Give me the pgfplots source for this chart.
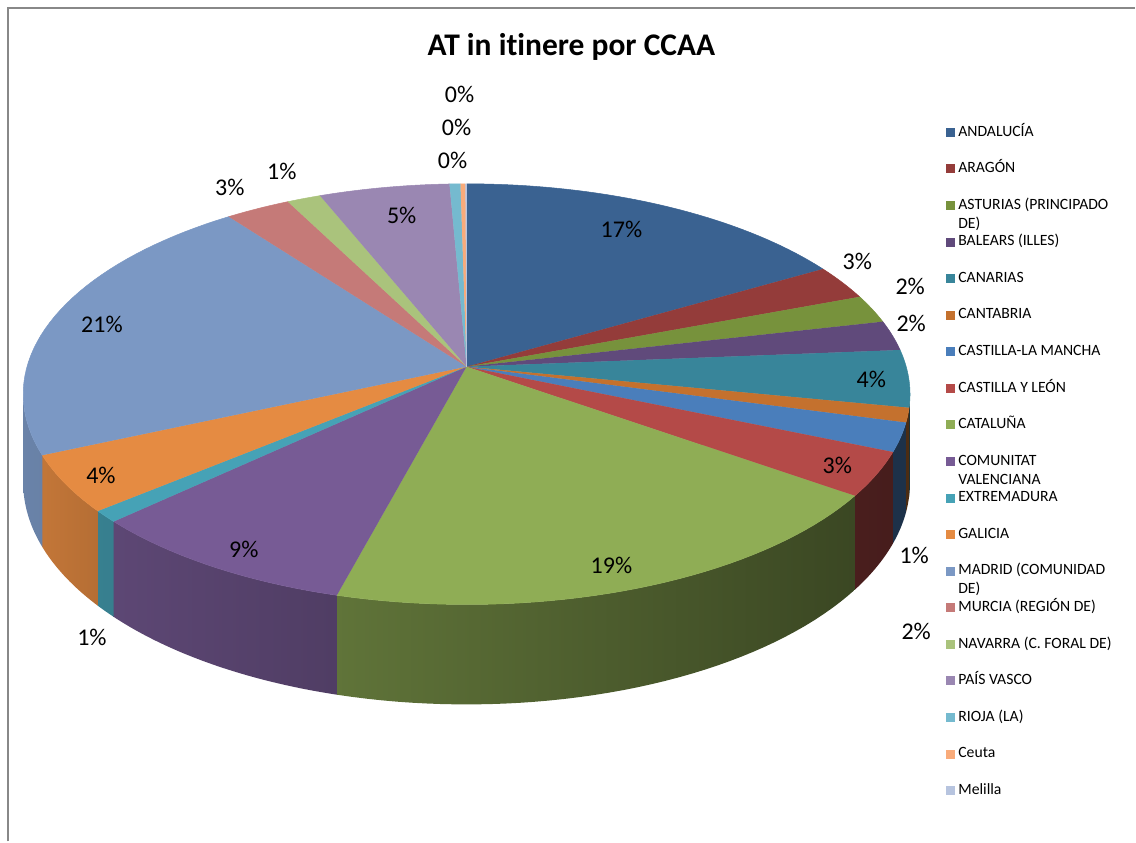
\documentclass[border=0pt]{standalone}
\usepackage{pgfplots}
\usepackage{pgfplotstable}
\pgfplotsset{compat=1.18}
\usepackage{fontspec}
\setmainfont{Carlito}[Ligatures=NoCommon]

\definecolor{c0}{HTML}{3A6291}
\definecolor{c1}{HTML}{943C3A}
\definecolor{c2}{HTML}{77923C}
\definecolor{c3}{HTML}{604A7B}
\definecolor{c4}{HTML}{38859A}
\definecolor{c5}{HTML}{C4712E}
\definecolor{c6}{HTML}{4A7EBB}
\definecolor{c7}{HTML}{B44A48}
\definecolor{c8}{HTML}{8FAD55}
\definecolor{c9}{HTML}{775B95}
\definecolor{c10}{HTML}{46A2B6}
\definecolor{c11}{HTML}{E58B42}
\definecolor{c12}{HTML}{7B98C4}
\definecolor{c13}{HTML}{C57A78}
\definecolor{c14}{HTML}{AAC37C}
\definecolor{c15}{HTML}{9A87B2}
\definecolor{c16}{HTML}{75BACF}
\definecolor{c17}{HTML}{F9AB7A}
\definecolor{c18}{HTML}{B7C4DF}
\definecolor{framegray}{HTML}{888888}

% share of each region (percent), in legend order
\pgfplotstableread{
pct
16.6
2.65
2.15
2.3
4.4
1.1
2.2
3.4
19.35
8.9
0.9
4.4
21.45
2.7
1.4
5.4
0.45
0.2
0.05
}\pcttable

% data label positions and rounded values
\pgfplotstableread{
x y v
622 612 17
858 580 3
911 555 2
912 518 2
872 462 4
915 286 1
917 210 2
838 376 3
612 276 19
244 292 9
92 204 1
101 366 4
102 517 21
230 654 3
282 670 1
402 626 5
453 681 0
457 714 0
460 747 0
}\labeltable

% cumulative angles (degrees, clockwise from 12 o'clock)
\def\cum{0}%
\pgfplotsforeachungrouped \i in {0,...,18}{%
  \pgfplotstablegetelem{\i}{pct}\of\pcttable
  \pgfmathsetmacro\nxt{\cum+3.6*\pgfplotsretval}%
  \expandafter\edef\csname angA\i\endcsname{\cum}%
  \expandafter\edef\csname angB\i\endcsname{\nxt}%
  \edef\cum{\nxt}%
}

\tikzset{
  declare function={
    px(\t)=467+3366*sin(\t)/(7.65+cos(\t));
    py(\t)=475+1583*cos(\t)/(7.65+cos(\t));
    hd(\t)=665/(7.65+cos(\t));
  }
}

\newcommand\topslice[2]{%
  \edef\ta{\csname angA#1\endcsname}%
  \edef\tb{\csname angB#1\endcsname}%
  \edef\tmp{\noexpand\addplot[fill=#2, draw=#2, line width=0.5pt, line join=round, domain=0:41, samples=42]
    ({x>40.5 ? 467 : px(\ta+(\tb-\ta)*x/40)}, {x>40.5 ? 475 : py(\ta+(\tb-\ta)*x/40)});}%
  \tmp
}

\newcommand\sideslice[2]{%
  \pgfmathsetmacro\ta{max(\csname angA#1\endcsname,97.5)}%
  \pgfmathsetmacro\tb{min(\csname angB#1\endcsname,262.5)}%
  \pgfmathtruncatemacro\pl{100*(0.4+0.47*min(1,max(0,(\tb-120)/130)))}%
  \pgfmathtruncatemacro\pr{100*(0.4+0.47*min(1,max(0,(\ta-120)/130)))}%
  \edef\sth{(x<40.5 ? \ta+(\tb-\ta)*x/40 : \tb-(\tb-\ta)*(x-41)/40)}%
  \edef\tmp{\noexpand\addplot[forget plot, draw=none, left color=#2!\pl!black, right color=#2!\pr!black, domain=0:81, samples=82]
    ({px(\sth)}, {py(\sth) - (x>40.5 ? hd(\sth) : 0)});}%
  \tmp
}

\newcommand\LE[1]{\smash{\begin{tabular}[t]{@{}l@{}}#1\end{tabular}}}

\begin{document}
\begin{tikzpicture}
\begin{axis}[
  width=1136pt, height=842pt, scale only axis,
  xmin=0, xmax=1136, ymin=0, ymax=842,
  hide axis, clip=false,
  title={AT in itinere por CCAA},
  title style={at={(axis description cs:0.5035,0.9264)}, anchor=base, inner sep=0pt,
    font=\bfseries\fontsize{31.5}{37}\selectfont},
  legend image code/.code={\path[#1, draw=none] (0pt,-4.5pt) rectangle (9pt,4.5pt);},
  legend cell align=left,
  legend style={at={(axis description cs:0.8336,0.8515)}, anchor=north west,
    draw=none, fill=none, inner sep=0pt, row sep=22.1pt, column sep=3pt,
    font=\fontsize{15.7}{19}\selectfont,
    nodes={inner sep=0pt, text height=11pt, text depth=3.5pt}},
]
% invisible frame for bounding box, and chart border
\path (rel axis cs:0,0) rectangle (rel axis cs:1,1);
\draw[framegray, line width=2pt, line cap=butt] (axis cs:8,0) -- (axis cs:8,834) -- (axis cs:1136,834);

% visible outer sides (front half)
\sideslice{4}{c4}
\sideslice{5}{c5}
\sideslice{6}{c6}
\sideslice{7}{c7}
\sideslice{8}{c8}
\sideslice{9}{c9}
\sideslice{10}{c10}
\sideslice{11}{c11}
\sideslice{12}{c12}

% top faces
\topslice{0}{c0}\addlegendentry{ANDALUCÍA}
\topslice{1}{c1}\addlegendentry{ARAGÓN}
\topslice{2}{c2}\addlegendentry{\LE{ASTURIAS (PRINCIPADO\\DE)}}
\topslice{3}{c3}\addlegendentry{BALEARS (ILLES)}
\topslice{4}{c4}\addlegendentry{CANARIAS}
\topslice{5}{c5}\addlegendentry{CANTABRIA}
\topslice{6}{c6}\addlegendentry{CASTILLA-LA MANCHA}
\topslice{7}{c7}\addlegendentry{CASTILLA Y LEÓN}
\topslice{8}{c8}\addlegendentry{CATALUÑA}
\topslice{9}{c9}\addlegendentry{\LE{COMUNITAT\\VALENCIANA}}
\topslice{10}{c10}\addlegendentry{EXTREMADURA}
\topslice{11}{c11}\addlegendentry{GALICIA}
\topslice{12}{c12}\addlegendentry{\LE{MADRID (COMUNIDAD\\DE)}}
\topslice{13}{c13}\addlegendentry{MURCIA (REGIÓN DE)}
\topslice{14}{c14}\addlegendentry{NAVARRA (C. FORAL DE)}
\topslice{15}{c15}\addlegendentry{PAÍS VASCO}
\topslice{16}{c16}\addlegendentry{RIOJA (LA)}
\topslice{17}{c17}\addlegendentry{Ceuta}
\topslice{18}{c18}\addlegendentry{Melilla}

% data labels
\addplot[forget plot, draw=none, mark=none, nodes near coords={\pgfplotspointmeta\%},
  point meta=explicit symbolic,
  every node near coord/.append style={anchor=center, inner sep=0pt, text=black,
    font=\fontsize{24}{29}\selectfont}]
  table[x=x, y=y, meta=v] {\labeltable};
\end{axis}
\end{tikzpicture}
\end{document}
